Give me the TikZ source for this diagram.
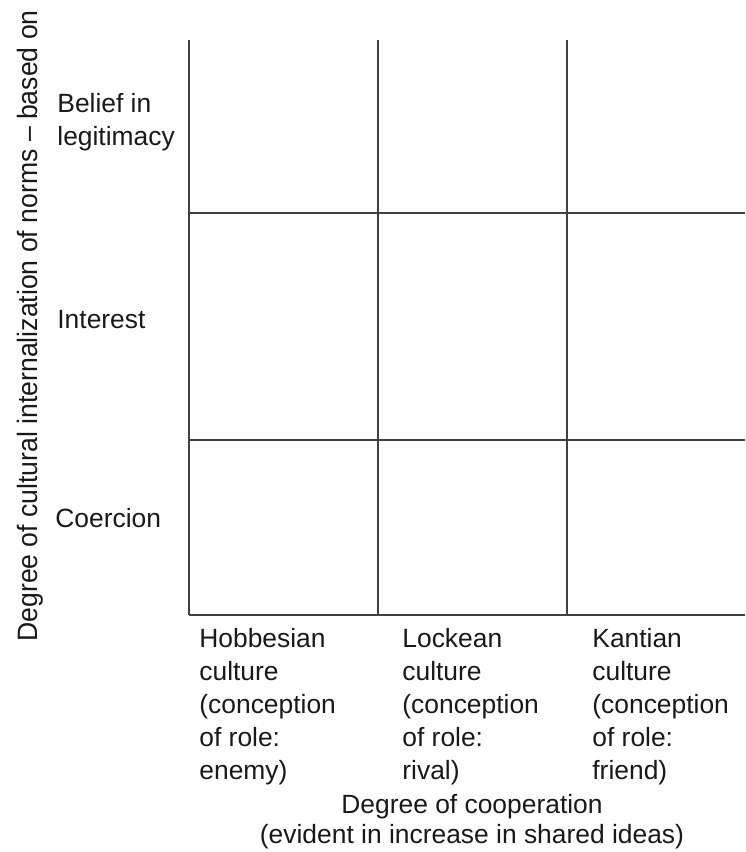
\documentclass[tikz,border=0pt]{standalone}
\usepackage{fontspec}
\setmainfont{Liberation Sans}

\begin{document}
\begin{tikzpicture}[
  x=0.5pt, y=-0.5pt,
  gridline/.style={draw=black!75, line width=1pt},
  lbl/.style={
    font=\fontsize{13.2}{16.5}\selectfont,
    inner sep=0pt, text=black!90
  },
  collbl/.style={lbl, align=left, anchor=north west}
]
  \useasboundingbox (0,0) rectangle (745,852);
  % grid
  \foreach \x in {189,378,567} {
    \draw[gridline] (\x,40) -- (\x,615);
  }
  \foreach \y in {213,440,615} {
    \draw[gridline] (189,\y) -- (745,\y);
  }
  % rows
  \node[lbl, align=left, anchor=north west] (belief) at (57,93) {Belief in\\legitimacy};
  \node[lbl, anchor=base west] (interest) at (57,328) {Interest};
  \node[lbl, anchor=base west] (coercion) at (55,527) {Coercion};
  % columns
  \node[collbl] (hobbes) at (199,628) {Hobbesian\\culture\\(conception\\of role:\\enemy)};
  \node[collbl] (locke) at (402,628) {Lockean\\culture\\(conception\\of role:\\rival)};
  \node[collbl] (kant) at (592,628) {Kantian\\culture\\(conception\\of role:\\friend)};
  % axes
  \node[lbl, font=\fontsize{13.2}{15}\selectfont, align=center, anchor=north]
    (xlabel) at (472,794) {Degree of cooperation\\(evident in increase in shared ideas)};
  \node[lbl, font=\fontsize{14}{16}\selectfont, rotate=90, anchor=base west]
    (ylabel) at (37,642) {\scalebox{0.95}[1]{Degree of cultural internalization of norms – based on}};
\end{tikzpicture}
\end{document}
